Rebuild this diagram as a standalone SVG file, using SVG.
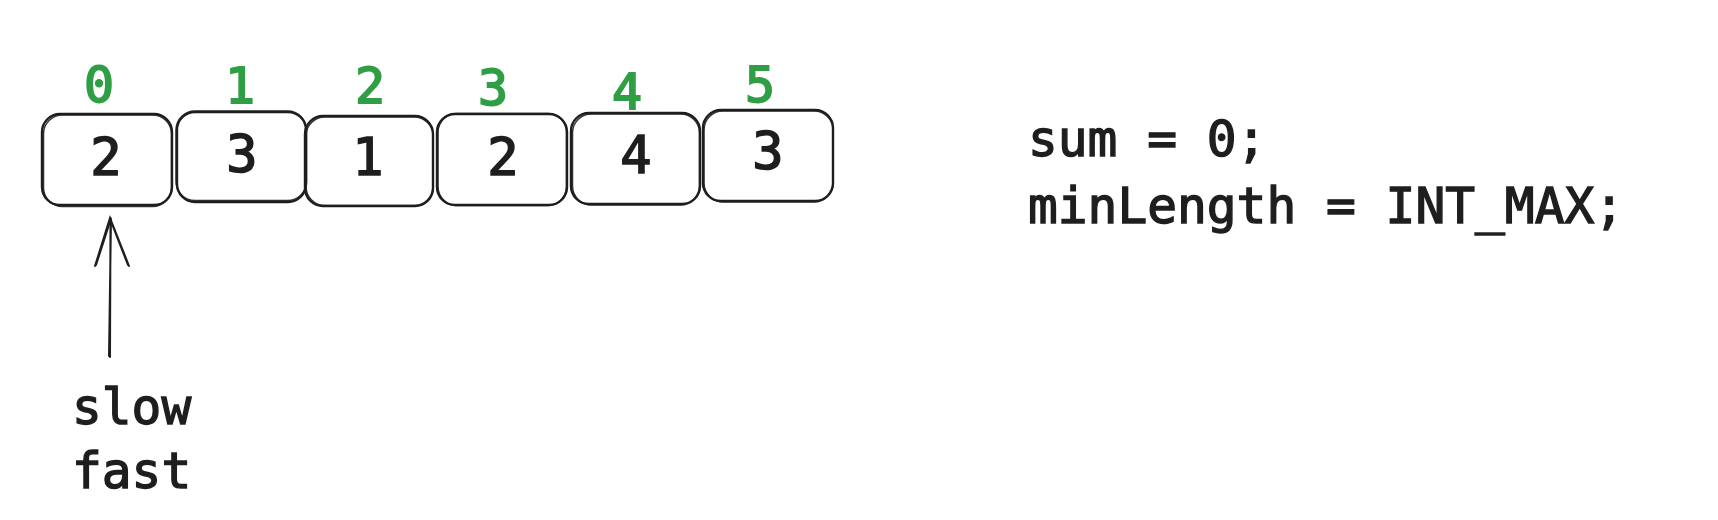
<svg xmlns="http://www.w3.org/2000/svg" width="1718" height="520" viewBox="0 0 1718 520">
<style>
.box{fill:none;stroke:#1e1e1e;stroke-width:2.4;stroke-linejoin:round}
.box2{fill:none;stroke:#1e1e1e;stroke-width:1.5;opacity:0.9}
.val{font-family:"DejaVu Sans Mono","Liberation Mono",monospace;font-size:52px;fill:#1e1e1e;stroke:#1e1e1e;stroke-width:1.6;text-anchor:middle}
.idx{font-family:"DejaVu Sans Mono","Liberation Mono",monospace;font-size:50px;fill:#2f9e44;stroke:#2f9e44;stroke-width:1.8;text-anchor:middle}
.code{font-family:"DejaVu Sans Mono","Liberation Mono",monospace;font-size:49.5px;fill:#1e1e1e;stroke:#1e1e1e;stroke-width:1.4}
.arr{fill:none;stroke:#1e1e1e;stroke-width:2;stroke-linecap:round}
</style>
<rect width="1718" height="520" fill="#ffffff"/>
<g id="node-0">
<rect class="box" x="42" y="114" width="130" height="91" rx="18"/>
<rect class="box2" x="43.5" y="115" width="128" height="91.5" rx="19"/>
<text class="idx" x="99" y="102">0</text>
<text class="val" x="106" y="175">2</text>
</g>
<g id="node-1">
<rect class="box" x="177" y="112" width="129" height="90" rx="18"/>
<rect class="box2" x="176" y="111" width="130.5" height="89.5" rx="19"/>
<text class="idx" x="240" y="103">1</text>
<text class="val" x="242" y="172">3</text>
</g>
<g id="node-2">
<rect class="box" x="305" y="116" width="128" height="90" rx="18"/>
<rect class="box2" x="306" y="117" width="127" height="88.5" rx="19"/>
<text class="idx" x="370" y="103">2</text>
<text class="val" x="368" y="175">1</text>
</g>
<g id="node-3">
<rect class="box" x="437" y="114" width="130" height="91" rx="18"/>
<rect class="box2" x="438" y="113.5" width="128.5" height="92" rx="19"/>
<text class="idx" x="493" y="105">3</text>
<text class="val" x="503" y="175">2</text>
</g>
<g id="node-4">
<rect class="box" x="571" y="113" width="129" height="91" rx="18"/>
<rect class="box2" x="572.5" y="114" width="127" height="91" rx="19"/>
<text class="idx" x="627" y="109">4</text>
<text class="val" x="636" y="173">4</text>
</g>
<g id="node-5">
<rect class="box" x="703" y="110" width="130" height="91" rx="18"/>
<rect class="box2" x="704" y="111" width="129" height="91" rx="19"/>
<text class="idx" x="760" y="102">5</text>
<text class="val" x="768" y="169">3</text>
</g>
<g id="connectors">
<path class="arr" d="M110 357 L110.5 218 M109 356 L111 219"/>
<path class="arr" d="M95 266 L110 218 L129 266 M96 265 L110.5 220 L128 265"/>
</g>
<g id="label-pointers">
<text class="code" x="72" y="424">slow</text>
<text class="code" x="72" y="488">fast</text>
</g>
<g id="label-code">
<text class="code" x="1028" y="156">sum = 0;</text>
<text class="code" x="1028" y="223">minLength = INT_MAX;</text>
</g>
</svg>
